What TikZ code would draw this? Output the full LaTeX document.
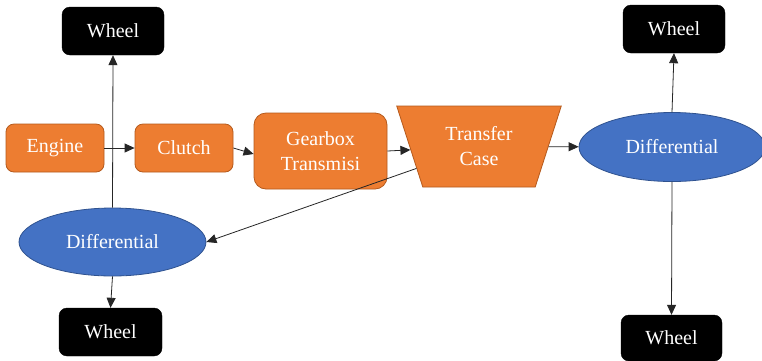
\documentclass[tikz,border=0pt]{standalone}
\usepackage{fontspec}
\setmainfont{Liberation Serif}
\usetikzlibrary{shapes.geometric,arrows.meta,calc}
\definecolor{partorange}{HTML}{ED7D31}
\definecolor{partorangeline}{HTML}{B55A1C}
\definecolor{diffblue}{HTML}{4472C4}
\definecolor{diffblueline}{HTML}{2F528F}
\tikzset{
  lbl/.style={text=white, font=\fontsize{20}{25}\selectfont, align=center, inner sep=0pt},
  wheelbox/.style={lbl, rectangle, rounded corners=8pt, fill=black, draw=black,
    minimum width=102pt, minimum height=48pt},
  partbox/.style={lbl, rectangle, rounded corners=8pt, fill=partorange,
    draw=partorangeline, line width=0.8pt, minimum width=98pt, minimum height=48pt},
  diffellipse/.style={lbl, ellipse, fill=diffblue, draw=diffblueline, line width=0.8pt,
    minimum width=186pt, minimum height=69pt},
  link/.style={draw=black!85, line width=0.8pt, -{Triangle[length=10pt,width=9pt]}},
  plainlink/.style={draw=black!85, line width=0.8pt}
}
\begin{document}
\begin{tikzpicture}[x=1pt, y=-1pt]
  \useasboundingbox (0,0) rectangle (762,360);
  \fill[white] (0,0) rectangle (762,360);

  % wheels
  \node[wheelbox] (w1) at (113,31) {Wheel};
  \node[wheelbox] (w2) at (674,29) {Wheel};
  \node[wheelbox, minimum width=101pt, minimum height=46pt] (w3) at (671.5,338) {Wheel};
  \node[wheelbox, minimum width=103pt] (w4) at (110.5,332) {Wheel};

  % drivetrain parts
  \node[partbox] (en) at (55,148) {Engine};
  \node[partbox] (cl) at (184,148) {Clutch};
  \node[partbox, rounded corners=12pt, minimum width=133pt, minimum height=76pt]
    (gb) at (320.5,151) {Gearbox\\Transmisi};
  \node[lbl, trapezium, trapezium angle=68.4, shape border rotate=180,
    trapezium stretches=true, minimum width=166pt, minimum height=81pt,
    fill=partorange, draw=partorangeline, line width=0.8pt]
    (tc) at (479,146.5) {Transfer\\Case};

  % differentials
  \node[diffellipse] (rd) at (672,147) {Differential};
  \node[diffellipse, minimum width=187pt, minimum height=68pt] (ld) at (112.5,242) {Differential};

  % connectors
  \draw[link] (en) -- (cl);
  \draw[link] (cl.east) -- ($(gb.west)+(0,3)$);
  \draw[link] (gb.east) -- (tc);
  \draw[link] (tc) -- (rd);
  \draw[link] (tc) -- (ld.east);
  \draw[link] (rd.north) -- (w2.south);
  \draw[link] (rd.south) -- (w3.north);
  \draw[link] (ld.north) -- (w1.south);
  \draw[link] (ld.south) -- (w4.north);
\end{tikzpicture}
\end{document}
